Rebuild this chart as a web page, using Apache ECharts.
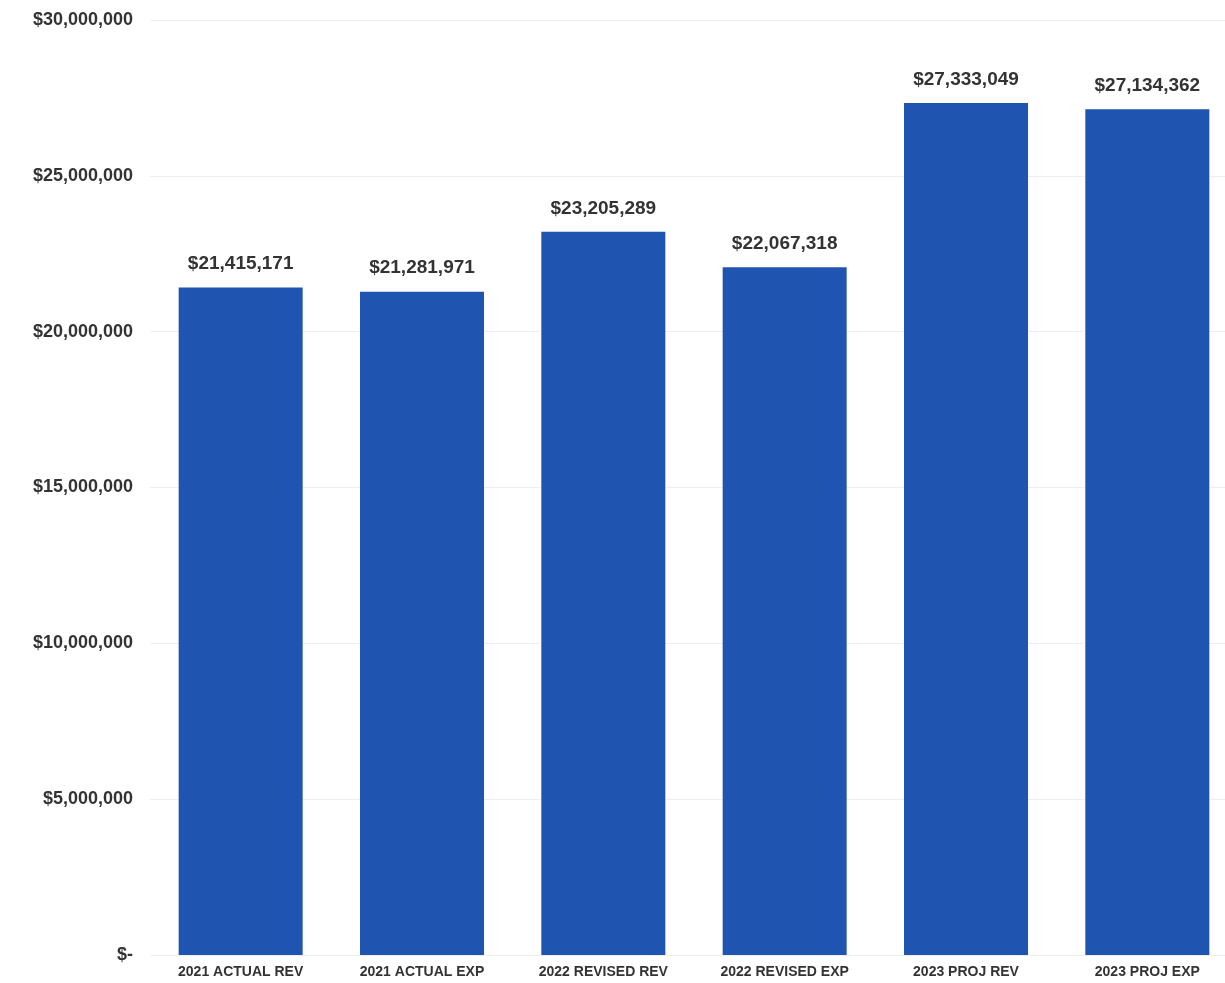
<!DOCTYPE html>
<html><head><meta charset="utf-8">
<script src="https://cdn.jsdelivr.net/npm/echarts@6/dist/echarts.min.js"></script>
<style>html,body{margin:0;padding:0;background:#fff;overflow:hidden}#c{width:1240px;height:983px}</style>
</head><body><div id="c"></div>
<script>
const categories = ['2021 ACTUAL REV','2021 ACTUAL EXP','2022 REVISED REV','2022 REVISED EXP','2023 PROJ REV','2023 PROJ EXP'];
const values = [21415171, 21281971, 23205289, 22067318, 27333049, 27134362];
const yMin = 0, yMax = 30000000, yStep = 5000000;

function money(v){
  if (v === 0) return '$-';
  return '$' + v.toLocaleString('en-US');
}
const chart = echarts.init(document.getElementById('c'), null, {renderer:'canvas'});
chart.setOption({
  animation:false,
  backgroundColor:'#fff',
  grid:{left:150, top:20, right:2, bottom:28, containLabel:false},
  xAxis:{type:'category', data:categories,
    axisLine:{show:false}, axisTick:{show:false},
    axisLabel:{interval:0, margin:10, color:'#333', fontFamily:'Liberation Sans, Arial, sans-serif', fontWeight:'bold', fontSize:14}},
  yAxis:{type:'value', min:yMin, max:yMax, interval:yStep,
    axisLine:{show:false}, axisTick:{show:false},
    splitLine:{lineStyle:{color:'#efefef', width:1}},
    axisLabel:{margin:17, color:'#333', fontFamily:'Liberation Sans, Arial, sans-serif', fontWeight:'bold', fontSize:18, formatter:money}},
  series:[{type:'bar', data:values, barWidth:124,
    itemStyle:{color:'#1f55b1'},
    label:{show:true, position:'top', distance:14, color:'#333', fontFamily:'Liberation Sans, Arial, sans-serif', fontWeight:'bold', fontSize:19, formatter:p=>money(p.value)}}]
});
</script></body></html>
